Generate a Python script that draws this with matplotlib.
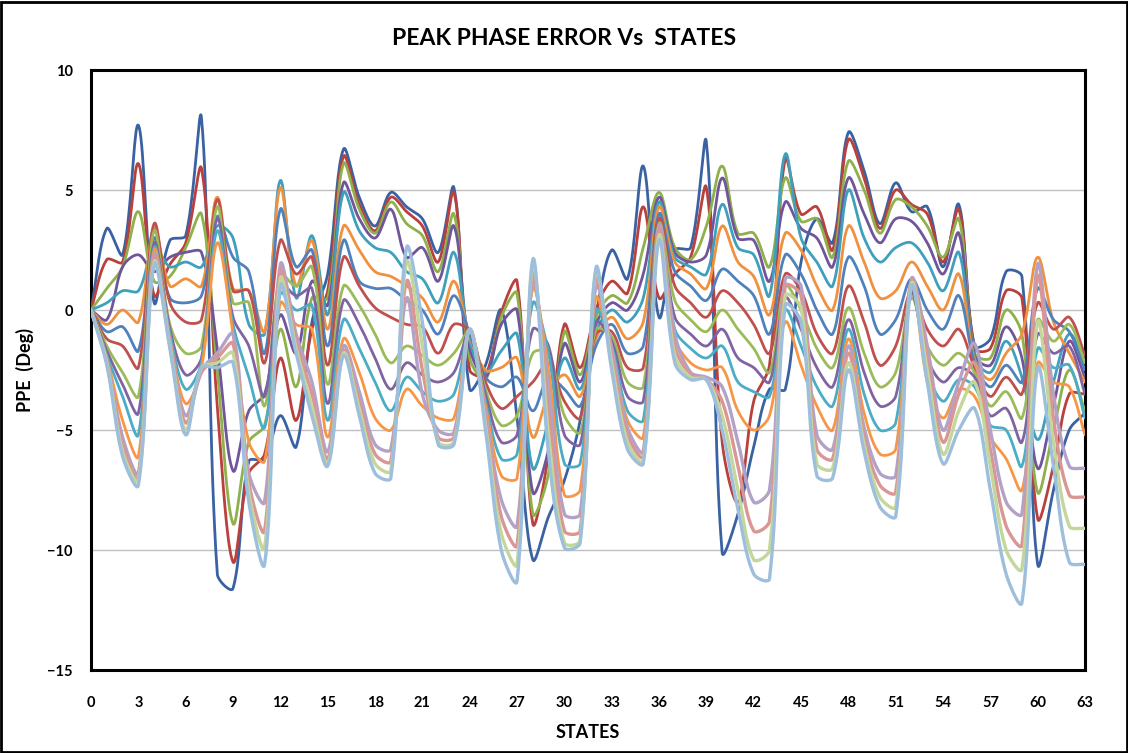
"""Peak phase error vs states: 16 smoothed line series, Excel-like look."""
import numpy as np
import matplotlib
matplotlib.use("Agg")
import matplotlib.pyplot as plt
from matplotlib.patches import Rectangle

states = list(range(64))
x_ticks = list(range(0, 64, 3))
y_ticks = [-15, -10, -5, 0, 5, 10]

ppe_01 = [0, 3.4, 2.3, 7.7, 0.3, 2.9, 3.1, 8.0,
          -11.0, -11.6, -6.3, -6.2, -4.4, -5.7, -0.5, 1.5,
          6.7, 4.7, 3.5, 4.9, 4.3, 3.8, 2.4, 5.1,
          -3.3, -2.3, 0.0, -4.5, -10.4, -8.6, -7.1, -4.6,
          -0.3, 2.5, 1.3, 6.0, -0.3, 2.5, 2.6, 7.0,
          -10.1, -8.5, -5.7, -3.3, -3.3, 2.0, 3.8, 2.8,
          7.4, 5.8, 3.6, 5.3, 4.1, 4.3, 1.8, 4.4,
          -1.5, -1.2, 1.6, 1.4, -10.6, -7.5, -5.0, -4.3]
ppe_02 = [0, 2.1, 2.0, 6.1, 0.6, 1.9, 2.8, 5.9,
          -4.0, -10.5, -6.8, -6.0, -2.0, -4.6, -0.8, 0.8,
          6.4, 4.4, 3.3, 4.7, 4.1, 3.5, 2.0, 4.9,
          -2.5, -2.7, -0.1, 1.2, -8.9, -6.0, -0.6, -2.4,
          0.0, 1.2, 0.7, 4.3, 0.5, 1.5, 2.2, 5.1,
          -5.5, -8.0, -3.8, -2.3, 6.3, 4.0, 4.3, 2.5,
          7.1, 5.5, 3.4, 5.0, 4.4, 4.0, 2.0, 4.2,
          -1.6, -1.6, 0.8, 0.5, -8.7, -6.5, -3.5, -3.5]
ppe_03 = [0, 0.9, 1.8, 4.1, 1.2, 1.4, 2.6, 4.0,
          -2.5, -8.9, -5.5, -4.8, -0.8, -3.2, 0.5, 0.5,
          6.1, 4.2, 3.2, 4.5, 3.6, 3.1, 1.6, 4.0,
          -2.0, -2.9, -0.3, 0.7, -8.5, -6.8, -0.9, -2.7,
          -0.3, 0.6, 0.3, 2.6, 4.9, 2.6, 2.1, 3.5,
          6.0, 3.2, 3.2, 1.8, 5.5, 3.7, 3.8, 2.2,
          6.2, 5.0, 3.2, 4.6, 4.3, 3.5, 2.2, 3.8,
          -1.8, -2.0, 0.0, -1.0, -7.6, -5.0, -2.5, -4.2]
ppe_04 = [0, -0.4, 1.8, 2.3, 1.6, 2.2, 2.4, 2.4,
          -1.6, -6.7, -4.2, -3.5, -0.2, -1.8, 1.2, 0.2,
          5.3, 3.8, 3.0, 4.2, 2.2, 2.6, 1.2, 3.5,
          -1.6, -2.8, -0.6, 0.0, -7.6, -5.8, -1.4, -3.0,
          -0.6, 0.3, 0.0, 1.5, 4.7, 2.4, 2.0, 2.3,
          5.5, 3.0, 2.9, 1.2, 4.5, 3.4, 3.0, 1.8,
          5.5, 4.0, 2.8, 3.8, 3.7, 2.8, 1.5, 3.2,
          -1.9, -2.3, -0.7, -2.0, -6.6, -4.0, -1.3, -2.8]
ppe_05 = [0, 0.3, 0.8, 0.8, 2.6, 1.8, 2.0, 1.8,
          3.5, 3.0, -0.6, -1.0, 5.4, 0.5, 3.1, -0.2,
          4.9, 3.3, 2.6, 2.4, 1.6, 1.3, 0.3, 2.4,
          -1.3, -2.6, -1.7, -1.0, -6.6, -4.6, -2.0, -3.3,
          -0.9, 0.0, -0.5, 0.5, 4.5, 2.2, 1.8, 1.5,
          4.4, 2.6, 2.3, 0.6, 6.5, 3.0, 2.0, 1.0,
          5.0, 3.0, 2.0, 2.6, 2.8, 2.0, 0.8, 2.4,
          -2.0, -2.6, -1.3, -2.8, -5.4, -3.0, -1.0, -2.2]
ppe_06 = [0, -0.6, 0.0, -0.5, 3.4, 1.0, 1.3, 1.0,
          4.7, 0.9, 0.8, -0.9, 5.1, 1.0, 2.9, -0.8,
          3.5, 2.5, 1.6, 1.4, 1.0, 0.5, -0.5, 1.2,
          -1.1, -2.5, -2.4, -2.0, -5.3, -3.5, -2.7, -3.6,
          -1.2, -0.3, -1.2, -0.5, 4.3, 2.0, 1.5, 0.9,
          3.5, 2.0, 1.4, -0.2, 3.2, 2.5, 1.0, 0.0,
          3.5, 2.0, 0.5, 0.8, 2.0, 1.0, 0.0, 1.5,
          -2.1, -2.9, -1.8, -1.0, 2.2, -0.5, -1.8, -3.0]
ppe_07 = [0, -0.9, -0.7, -1.7, 3.0, 0.5, 0.3, 0.6,
          3.9, 2.2, 1.6, -1.8, 4.2, 1.8, 2.5, -1.5,
          2.9, 1.2, 0.9, 0.9, 0.4, 0.0, -1.0, 0.6,
          -1.0, -2.8, -3.2, -2.8, -4.2, -2.8, -3.3, -4.0,
          -1.5, -0.6, -1.8, -1.5, 4.0, 1.6, 1.0, 0.4,
          1.7, 1.2, 0.6, -1.0, 2.3, 1.5, 0.0, -1.0,
          2.2, 1.0, -1.0, -0.4, 1.3, 0.0, -0.8, 0.6,
          -2.2, -3.2, -2.3, -3.0, 0.9, -0.4, -0.9, -2.5]
ppe_08 = [0, -1.2, -1.5, -2.4, 3.6, 0.3, -0.5, -0.4,
          4.6, 0.8, 0.8, -2.2, 2.9, 1.5, 2.2, -2.3,
          2.2, 1.0, 0.1, -0.3, -0.6, -0.7, -1.8, -0.6,
          -0.9, -3.0, -4.1, -3.6, -3.0, -2.2, -3.8, -4.5,
          -1.0, -0.9, -2.4, -2.4, 3.8, 1.0, 0.3, -0.3,
          0.8, 0.3, -0.6, -1.8, 1.5, 0.8, -1.0, -1.8,
          1.0, -0.5, -2.3, -1.5, 0.8, -0.8, -1.5, -0.8,
          -2.4, -3.6, -2.8, -3.5, 0.3, -0.8, -0.3, -1.9]
ppe_09 = [0, -1.5, -2.6, -3.6, 3.3, -0.6, -1.8, -1.5,
          4.3, 0.3, 0.3, -4.0, 1.5, 1.0, 1.8, -3.1,
          1.0, 0.2, -1.0, -2.2, -1.5, -1.9, -2.3, -1.8,
          -0.9, -3.3, -4.8, -4.4, -1.8, -1.8, -4.4, -5.1,
          -0.8, -1.1, -3.0, -3.2, 3.6, 0.4, -0.4, -0.9,
          0.0, -0.8, -1.6, -2.6, 1.0, 0.0, -1.6, -2.4,
          0.1, -1.8, -3.2, -2.6, 0.5, -1.5, -2.3, -1.8,
          -2.6, -4.0, -3.4, -4.5, -0.4, -1.3, -0.6, -2.2]
ppe_10 = [0, -1.7, -3.1, -4.3, 2.8, -0.8, -2.7, -2.0,
          3.8, -0.3, -1.5, -3.6, 1.1, 0.6, 0.9, -3.9,
          0.4, -0.6, -2.0, -3.3, -2.2, -2.7, -3.0, -2.6,
          -0.9, -3.5, -5.5, -5.2, -0.8, -1.5, -5.2, -5.6,
          -0.5, -1.3, -3.6, -3.8, 3.4, -0.3, -1.0, -1.5,
          -0.8, -2.0, -2.4, -3.0, 0.5, -0.8, -2.4, -3.2,
          -0.4, -2.6, -4.0, -3.6, 0.7, -2.0, -3.0, -2.4,
          -2.8, -4.4, -4.1, -5.5, -1.0, -1.8, -1.5, -3.5]
ppe_11 = [0, -1.9, -3.6, -5.2, 2.6, -1.0, -3.3, -2.2,
          3.3, -0.6, -2.8, -4.9, 0.7, 0.0, 0.2, -4.6,
          -0.4, -1.6, -3.0, -4.2, -2.8, -3.4, -3.8, -3.5,
          -0.9, -3.8, -6.2, -6.0, 0.3, -1.8, -6.4, -6.4,
          0.0, -1.5, -4.2, -4.6, 3.2, -0.8, -1.6, -2.0,
          -1.5, -3.0, -3.4, -3.6, 0.0, -1.5, -3.2, -4.0,
          -0.8, -3.5, -5.0, -4.7, 1.0, -2.5, -3.8, -2.9,
          -3.2, -4.8, -5.0, -6.5, -1.6, -2.4, -2.3, -4.5]
ppe_12 = [0, -2.0, -4.6, -6.1, 2.5, -1.2, -3.9, -2.4,
          2.8, -1.0, -5.5, -6.3, 0.3, -0.6, -0.8, -5.3,
          -1.2, -2.6, -4.5, -5.0, -3.3, -4.0, -4.5, -4.5,
          -0.8, -4.0, -6.9, -7.0, 0.9, -2.5, -7.7, -7.5,
          0.5, -1.7, -4.6, -5.3, 3.0, -1.2, -2.2, -2.5,
          -2.4, -4.2, -5.0, -4.4, -0.5, -2.3, -4.0, -5.0,
          -1.2, -4.3, -6.0, -5.8, 1.2, -3.0, -4.5, -3.3,
          -3.6, -5.3, -6.2, -7.5, -2.2, -3.0, -3.2, -5.2]
ppe_13 = [0, -2.1, -5.3, -6.8, 2.3, -1.3, -4.4, -2.5,
          -1.8, -1.0, -6.8, -8.0, 1.9, -1.0, -3.0, -5.9,
          -1.5, -3.4, -5.6, -5.8, 0.5, -3.5, -5.0, -5.1,
          -0.8, -4.3, -7.9, -9.0, 1.2, -3.3, -8.5, -8.5,
          1.0, -1.6, -4.9, -5.9, 3.5, -1.0, -2.6, -2.8,
          -3.2, -5.5, -8.0, -7.5, 1.3, 1.0, -5.2, -5.8,
          -1.5, -4.9, -6.8, -6.9, 1.3, -1.5, -5.0, -3.0,
          -1.4, -5.0, -8.0, -8.5, 1.9, -3.5, -6.5, -6.6]
ppe_14 = [0, -2.2, -5.6, -7.0, 2.2, -1.4, -4.7, -2.6,
          -2.0, -1.4, -7.2, -9.2, 1.6, -1.3, -3.5, -6.2,
          -1.7, -3.8, -6.0, -6.3, 1.2, -2.5, -5.3, -5.3,
          -0.8, -4.5, -8.6, -9.8, 1.5, -4.2, -9.2, -9.2,
          1.3, -1.9, -5.2, -6.1, 3.3, -1.5, -2.7, -2.9,
          -3.8, -6.5, -9.2, -8.8, 1.0, 0.6, -5.8, -6.2,
          -1.8, -5.3, -7.3, -7.6, 1.2, -2.0, -5.5, -3.5,
          -2.2, -5.8, -9.0, -9.8, 1.4, -4.5, -7.7, -7.8]
ppe_15 = [0, -2.2, -5.9, -7.1, 2.0, -1.5, -5.0, -2.4,
          -2.2, -1.8, -7.6, -9.9, 1.3, -1.6, -4.0, -6.4,
          -1.8, -4.1, -6.4, -6.7, 2.0, -1.5, -5.5, -5.5,
          -0.8, -4.8, -9.3, -10.6, 1.9, -5.2, -9.7, -9.6,
          1.6, -2.2, -5.5, -6.3, 3.1, -1.9, -2.8, -2.9,
          -4.4, -7.5, -10.4, -10.0, 0.6, 0.1, -6.4, -6.6,
          -2.2, -5.6, -7.8, -8.2, 1.1, -2.5, -6.0, -4.2,
          -3.0, -6.5, -10.0, -10.8, -0.5, -5.5, -9.0, -9.1]
ppe_16 = [0, -2.3, -6.1, -7.3, 1.9, -1.6, -5.2, -2.4,
          -2.4, -2.2, -8.0, -10.6, 1.0, -1.8, -4.4, -6.5,
          -1.9, -4.4, -6.8, -7.0, 2.6, -0.5, -5.6, -5.6,
          -0.8, -5.0, -10.0, -11.3, 2.1, -6.0, -9.9, -9.7,
          1.75, -2.5, -5.8, -6.4, 2.9, -2.2, -2.9, -2.9,
          -5.0, -8.3, -11.0, -11.2, 0.2, -0.5, -6.9, -7.0,
          -2.5, -5.9, -8.2, -8.6, 1.0, -3.0, -6.4, -5.0,
          -4.1, -7.5, -11.0, -12.2, -2.4, -6.5, -10.5, -10.6]

series = [ppe_01, ppe_02, ppe_03, ppe_04, ppe_05, ppe_06, ppe_07, ppe_08,
          ppe_09, ppe_10, ppe_11, ppe_12, ppe_13, ppe_14, ppe_15, ppe_16]

colors = ["#3a62a3", "#b9403d", "#8fb04a", "#71559a", "#3ea0bd", "#f0913f",
          "#4f81bd", "#c0504d", "#9bbb59", "#8064a2", "#4bacc6", "#f79646",
          "#b3a2c7", "#d99694", "#c3d69b", "#9dbfdc"]

FONT = ["Lato", "DejaVu Sans"]
PX_X, PX_Y = 15.8, 24.0  # screen pixels per state / per degree


def _smooth(x, y, n=20, k=1.0 / 3):
    """Excel-like smoothed line: cubic Bezier per segment, tangents
    weighted by neighbouring segment lengths (limits overshoot)."""
    p = np.column_stack([np.asarray(x, float) * PX_X, np.asarray(y, float) * PX_Y])
    m = len(p)
    prev = np.vstack([p[:1], p[:-1]])
    nxt = np.vstack([p[1:], p[-1:]])
    tang = nxt - prev
    d_in = np.linalg.norm(p - prev, axis=1)
    d_out = np.linalg.norm(nxt - p, axis=1)
    tot = d_in + d_out
    tot[tot == 0] = 1.0
    c_out = p + tang * (d_out / tot)[:, None] * k
    c_in = p - tang * (d_in / tot)[:, None] * k
    t = np.linspace(0, 1, n, endpoint=False)[:, None]
    parts = []
    for i in range(m - 1):
        b = ((1 - t) ** 3 * p[i] + 3 * (1 - t) ** 2 * t * c_out[i]
             + 3 * (1 - t) * t ** 2 * c_in[i + 1] + t ** 3 * p[i + 1])
        parts.append(b)
    parts.append(p[-1:])
    curve = np.vstack(parts)
    return curve[:, 0] / PX_X, curve[:, 1] / PX_Y


fig = plt.figure(figsize=(11.28, 7.53), dpi=100)
ax = fig.add_axes([0.0807, 0.1102, 0.8812, 0.7968])

for i, (vals, col) in enumerate(zip(series, colors)):
    sx, sy = _smooth(states, vals)
    ax.plot(sx, sy, color=col, lw=2.4 if i >= 12 else 2.0,
            solid_capstyle="round", zorder=3 + i)

ax.set_xlim(0, 63)
ax.set_ylim(-15, 10)
ax.set_xticks(x_ticks)
ax.set_yticks(y_ticks)
ax.grid(True, axis="y", color="#bfbfbf", lw=1.0, zorder=0)
ax.tick_params(length=0, labelsize=10.5)
ax.tick_params(axis="x", pad=19)
ax.tick_params(axis="y", pad=13)
for lab in ax.get_xticklabels() + ax.get_yticklabels():
    lab.set_fontfamily(FONT)
    lab.set_fontweight("bold")
for sp in ax.spines.values():
    sp.set_linewidth(2.2)
    sp.set_color("black")

ax.set_xlabel("STATES", fontsize=13, fontweight="bold", family=FONT, labelpad=10)
ax.set_ylabel("PPE  (Deg)", fontsize=13, fontweight="bold", family=FONT, labelpad=10)
fig.text(0.5, 0.949, "PEAK PHASE ERROR Vs  STATES", ha="center", va="center",
         fontsize=16.5, fontweight="bold", family=FONT)

fig.patches.append(Rectangle((0.001, 0.001), 0.998, 0.997, transform=fig.transFigure,
                             fill=False, lw=2.0, edgecolor="black"))

fig.savefig("out.png", dpi=100)
